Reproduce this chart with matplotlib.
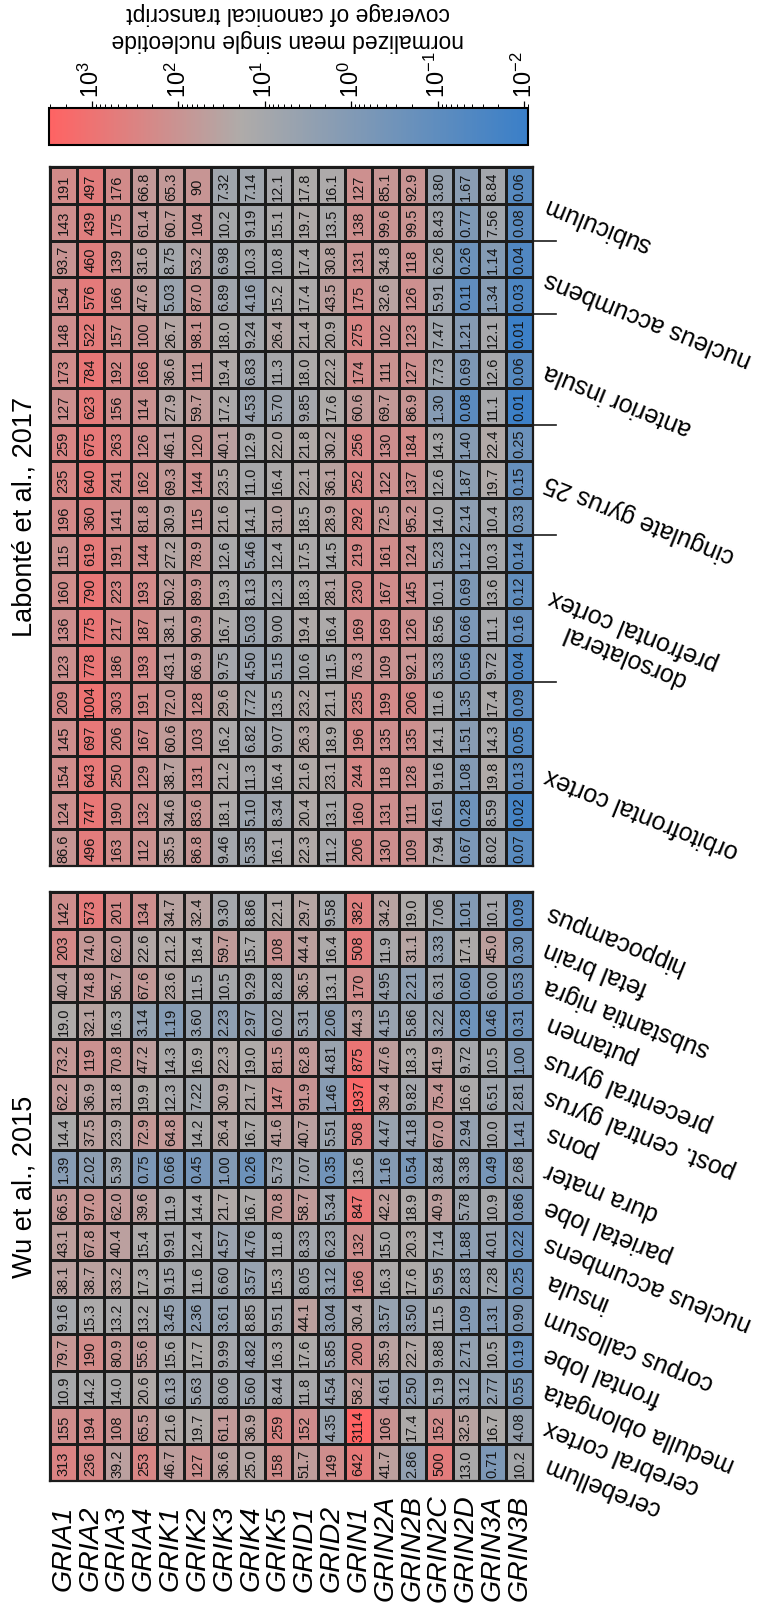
import matplotlib.pyplot as plt
import numpy as np
from matplotlib.colors import LinearSegmentedColormap, LogNorm
from matplotlib.transforms import blended_transform_factory

plt.rcParams['font.family'] = ['Liberation Sans', 'DejaVu Sans']
cell_font = ['Liberation Sans Narrow', 'Liberation Sans', 'DejaVu Sans']

genes = ['GRIA1', 'GRIA2', 'GRIA3', 'GRIA4', 'GRIK1', 'GRIK2', 'GRIK3', 'GRIK4',
         'GRIK5', 'GRID1', 'GRID2', 'GRIN1', 'GRIN2A', 'GRIN2B', 'GRIN2C',
         'GRIN2D', 'GRIN3A', 'GRIN3B']

# Wu et al., 2015 - one row per tissue, listed bottom to top
wu_tissues = ['cerebellum', 'cerebral cortex', 'medulla oblongata', 'frontal lobe',
              'corpus callosum', 'insula', 'nucleus accumbens', 'parietal lobe',
              'dura mater', 'pons', 'post. central gyrus', 'precentral gyrus',
              'putamen', 'substantia nigra', 'fetal brain', 'hippocampus']
wu_values = [
    "313 236 39.2 253 46.7 127 36.6 25.0 158 51.7 149 642 41.7 2.86 500 13.0 0.71 10.2",
    "155 194 108 65.5 21.6 19.7 61.1 36.9 259 152 4.35 3114 106 17.4 152 32.5 16.7 4.08",
    "10.9 14.2 14.0 20.6 6.13 5.63 8.06 5.60 8.44 11.8 4.54 58.2 4.61 2.50 5.19 3.12 2.77 0.55",
    "79.7 190 80.9 55.6 15.6 17.7 9.99 4.82 16.3 17.6 5.85 200 35.9 22.7 9.88 2.71 10.5 0.19",
    "9.16 15.3 13.2 13.2 3.45 2.36 3.61 8.85 9.51 44.1 3.04 30.4 3.57 3.50 11.5 1.09 1.31 0.90",
    "38.1 38.7 33.2 17.3 9.15 11.6 6.60 3.57 15.3 8.05 3.12 166 16.3 17.6 5.95 2.83 7.28 0.25",
    "43.1 67.8 40.4 15.4 9.91 12.4 4.57 4.76 11.8 8.33 6.23 132 15.0 20.3 7.14 1.88 4.01 0.22",
    "66.5 97.0 62.0 39.6 11.9 14.4 21.7 16.7 70.8 58.7 5.34 847 42.2 18.9 40.9 5.78 10.9 0.86",
    "1.39 2.02 5.39 0.75 0.66 0.45 1.00 0.26 5.73 7.07 0.35 13.6 1.16 0.54 3.84 3.38 0.49 2.68",
    "14.4 37.5 23.9 72.9 64.8 14.2 26.4 16.7 41.6 40.7 5.51 508 4.47 4.18 67.0 2.94 10.0 1.41",
    "62.2 36.9 31.8 19.9 12.3 7.22 30.9 21.7 147 91.9 1.46 1937 39.4 9.82 75.4 16.6 6.51 2.81",
    "73.2 119 70.8 47.2 14.3 16.9 22.3 19.0 81.5 62.8 4.81 875 47.6 18.3 41.9 9.72 10.5 1.00",
    "19.0 32.1 16.3 3.14 1.19 3.60 2.23 2.97 6.02 5.31 2.06 44.3 4.15 5.86 3.22 0.28 0.46 0.31",
    "40.4 74.8 56.7 67.6 23.6 11.5 10.5 9.29 8.28 36.5 13.1 170 4.95 2.21 6.31 0.60 6.00 0.53",
    "203 74.0 62.0 22.6 21.2 18.4 59.7 15.7 108 44.4 16.4 508 11.9 31.1 3.33 17.1 45.0 0.30",
    "142 573 201 134 34.7 32.4 9.30 8.86 22.1 29.7 9.58 382 34.2 19.0 7.06 1.01 10.1 0.09",
]

# Labonté et al., 2017 - one row per sample, bottom to top, grouped by region
lab_regions = ['orbitofrontal cortex', 'dorsolateral\nprefrontal cortex',
               'cingulate gyrus 25', 'anterior insula', 'nucleus accumbens', 'subiculum']
lab_samples = [5, 4, 3, 3, 2, 2]
lab_values = [
    "86.6 496 163 112 35.5 86.8 9.46 5.35 16.1 22.3 11.2 206 130 109 7.94 0.67 8.02 0.07",
    "124 747 190 132 34.6 83.6 18.1 5.10 8.34 20.4 13.1 160 131 111 4.61 0.28 8.59 0.02",
    "154 643 250 129 38.7 131 21.2 11.3 16.4 21.6 23.1 244 118 128 9.16 1.08 19.8 0.13",
    "145 697 206 167 60.6 103 16.2 6.82 9.07 26.3 18.9 196 135 135 14.1 1.51 14.3 0.05",
    "209 1004 303 191 72.0 128 29.6 7.72 13.5 23.2 21.1 235 199 206 11.6 1.35 17.4 0.09",
    "123 778 186 193 43.1 66.9 9.75 4.50 5.15 10.6 11.5 76.3 109 92.1 5.33 0.56 9.72 0.04",
    "136 775 217 187 38.1 90.9 16.7 5.03 9.00 19.4 16.4 169 169 126 8.56 0.66 11.1 0.16",
    "160 790 223 193 50.2 89.9 19.3 8.13 12.3 18.3 28.1 230 167 145 10.1 0.69 13.6 0.12",
    "115 619 191 144 27.2 78.9 12.6 5.46 12.4 17.5 14.5 219 161 124 5.23 1.12 10.3 0.14",
    "196 360 141 81.8 30.9 115 21.6 14.1 31.0 18.5 28.9 292 72.5 95.2 14.0 2.14 10.4 0.33",
    "235 640 241 162 69.3 144 23.5 11.0 16.4 22.1 36.1 252 122 137 12.6 1.87 19.7 0.15",
    "259 675 263 126 46.1 120 40.1 12.9 22.0 21.8 30.2 256 130 184 14.3 1.40 22.4 0.25",
    "127 623 156 114 27.9 59.7 17.2 4.53 5.70 9.85 17.6 60.6 69.7 86.9 1.30 0.08 11.1 0.01",
    "173 784 192 166 36.6 111 19.4 6.83 11.3 18.0 22.2 174 111 127 7.73 0.69 12.6 0.06",
    "148 522 157 100 26.7 98.1 18.0 9.24 26.4 21.4 20.9 275 102 123 7.47 1.21 12.1 0.01",
    "154 576 166 47.6 5.03 87.0 6.89 4.16 15.2 17.4 43.5 175 32.6 126 5.91 0.11 1.34 0.03",
    "93.7 460 139 31.6 8.75 53.2 6.98 10.3 10.8 17.4 30.8 131 34.8 118 6.26 0.26 1.14 0.04",
    "143 439 175 61.4 60.7 104 10.2 9.19 15.1 19.7 13.5 138 99.6 99.5 8.43 0.77 7.56 0.08",
    "191 497 176 66.8 65.3 90 7.32 7.14 12.1 17.8 16.1 127 85.1 92.9 3.80 1.67 8.84 0.06",
]

wu_labels = [row.split() for row in wu_values]
lab_labels = [row.split() for row in lab_values]
wu = np.array(wu_labels, dtype=float)
lab = np.array(lab_labels, dtype=float)

cmap = LinearSegmentedColormap.from_list(
    'coverage', [(0.0, '#3A7FC8'), (0.6, '#AFABA9'), (1.0, '#FF6363')])
norm = LogNorm(vmin=0.009, vmax=3114)

W, H = 775, 1606
fig = plt.figure(figsize=(W / 100, H / 100), dpi=100)


def px_axes(x0, y0, x1, y1):
    # axes from pixel box (top-left origin)
    return fig.add_axes([x0 / W, 1 - y1 / H, (x1 - x0) / W, (y1 - y0) / H])


def draw_block(ax, data, labels):
    mesh = ax.pcolormesh(data, cmap=cmap, norm=norm, edgecolors='#1c1c1c', linewidth=0.9)
    for i, row in enumerate(labels):
        for j, s in enumerate(row):
            ax.text(j + 0.5, i + 0.5, s, rotation=90, ha='center', va='center',
                    fontsize=10.5, family=cell_font, color='#141414')
    ax.set_xlim(0, data.shape[1])
    ax.set_ylim(0, data.shape[0])
    ax.set_xticks([])
    ax.set_yticks([])
    for sp in ax.spines.values():
        sp.set_linewidth(1.6)
        sp.set_color('#1c1c1c')
    return mesh


ax_lab = px_axes(50, 168, 533, 867)
ax_wu = px_axes(50, 893, 533, 1482)
mesh = draw_block(ax_lab, lab, lab_labels)
draw_block(ax_wu, wu, wu_labels)

# tissue labels for Wu block
tr_wu = blended_transform_factory(ax_wu.transAxes, ax_wu.transData)
for i, name in enumerate(wu_tissues):
    ax_wu.text(1.025, i + 0.5, name, transform=tr_wu, rotation=158,
               rotation_mode='anchor', ha='right', va='center', fontsize=18,
               clip_on=False)

# region labels and separators for Labonté block
tr_lab = blended_transform_factory(ax_lab.transAxes, ax_lab.transData)
start = 0
for k, (name, n) in enumerate(zip(lab_regions, lab_samples)):
    ax_lab.text(1.025, start + n / 2, name, transform=tr_lab, rotation=158,
                rotation_mode='anchor', ha='right', va='center', fontsize=18,
                multialignment='center', clip_on=False)
    start += n
    if k < len(lab_regions) - 1:
        ax_lab.plot([1.0, 1.048], [start, start], transform=tr_lab, color='#1c1c1c',
                    lw=1.2, clip_on=False)

# gene names under the Wu block
tr_gene = blended_transform_factory(ax_wu.transData, ax_wu.transAxes)
for j, g in enumerate(genes):
    ax_wu.text(j + 0.5, -66 / 589, g, transform=tr_gene, rotation=90, ha='center',
               va='center', fontsize=20.5, style='italic', clip_on=False)

fig.text(25 / W, 1 - 517 / H, 'Labonté et al., 2017', rotation=90, ha='center',
         va='center', fontsize=19.5)
fig.text(25 / W, 1 - 1187 / H, 'Wu et al., 2015', rotation=90, ha='center',
         va='center', fontsize=19.5)

# colour bar, high values on the left
cax = px_axes(49, 109, 528, 146)
cb = fig.colorbar(mesh, cax=cax, orientation='horizontal')
cax.invert_xaxis()
cax.xaxis.set_ticks_position('top')
cax.tick_params(axis='x', which='major', labelrotation=90, labelsize=17, length=5,
                width=0.9, pad=3)
cax.tick_params(axis='x', which='minor', length=3, width=0.7)
cb.outline.set_linewidth(1.5)
fig.text(288 / W, 1 - 27 / H,
         'normalized mean single nucleotide\ncoverage of canonical transcript',
         rotation=180, ha='center', va='center', fontsize=16.5, multialignment='center')

fig.savefig('out.png', dpi=100)
